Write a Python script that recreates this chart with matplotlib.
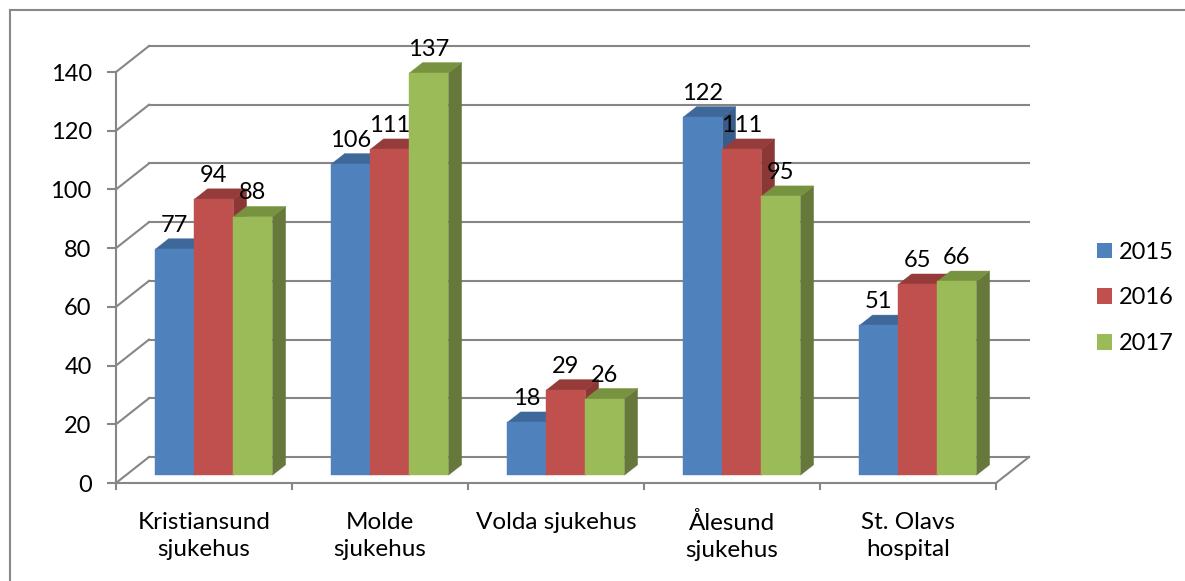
import matplotlib
matplotlib.use("Agg")
import matplotlib.pyplot as plt
from matplotlib.patches import Polygon, Patch
import numpy as np

plt.rcParams['font.family'] = ['Lato', 'DejaVu Sans']

categories = ["Kristiansund\nsjukehus", "Molde\nsjukehus", "Volda sjukehus",
              "Ålesund\nsjukehus", "St. Olavs\nhospital"]
years = ["2015", "2016", "2017"]
v2015 = [77, 106, 18, 122, 51]
v2016 = [94, 111, 29, 111, 65]
v2017 = [88, 137, 26, 95, 66]
series = [v2015, v2016, v2017]

front_cols = ['#4F81BD', '#C0504D', '#9BBB59']
top_cols = ['#3E689A', '#953B39', '#78933F']
side_cols = ['#385D8A', '#8A3735', '#66793A']
grid_col = '#868686'

W, H = 1185, 581
fig = plt.figure(figsize=(W / 100, H / 100), dpi=100)
ax = fig.add_axes([116 / W, (H - 483) / H, 880 / W, 411 / H])
ax.set_xlim(0, 5)
ax.set_ylim(0, 140)

# depth of the 3d box, in data units
DX = 33 / 176
DY = 26 / (411 / 140)
f_front, f_back = 0.3, 0.7

# back wall + side wall gridlines
for v in range(0, 141, 20):
    ax.plot([DX, 5 + DX], [v + DY, v + DY], color=grid_col, lw=1.5, clip_on=False, zorder=1)
    ax.plot([0, DX], [v, v + DY], color=grid_col, lw=1.5, clip_on=False, zorder=1)
ax.plot([5, 5 + DX], [0, DY], color=grid_col, lw=1.5, clip_on=False, zorder=1)

w = 0.2216
z = 3
for c in range(len(categories)):
    for i, vals in enumerate(series):
        v = vals[c]
        xl = c + 0.5 - 1.5 * w + i * w
        xr = xl + w
        fx, fy = f_front * DX, f_front * DY
        bx, by = f_back * DX, f_back * DY
        front = [(xl + fx, fy), (xr + fx, fy), (xr + fx, v + fy), (xl + fx, v + fy)]
        top = [(xl + fx, v + fy), (xr + fx, v + fy), (xr + bx, v + by), (xl + bx, v + by)]
        side = [(xr + fx, fy), (xr + bx, by), (xr + bx, v + by), (xr + fx, v + fy)]
        for pts, col in [(side, side_cols[i]), (top, top_cols[i]), (front, front_cols[i])]:
            ax.add_patch(Polygon(pts, closed=True, facecolor=col, edgecolor=col,
                                 lw=0.3, clip_on=False, zorder=z))
        z += 1
        ax.annotate(str(v), ((xl + xr) / 2 + fx, v + fy), xytext=(-0.5, 12.5),
                    textcoords='offset points', ha='center', va='baseline',
                    fontsize=17, color='black', zorder=100, annotation_clip=False)

for s in ['top', 'right']:
    ax.spines[s].set_visible(False)
for s in ['left', 'bottom']:
    ax.spines[s].set_color(grid_col)
    ax.spines[s].set_linewidth(1.5)
ax.set_facecolor('none')

ax.set_yticks(range(0, 141, 20))
ax.tick_params(axis='y', length=6.5, width=1.5, color=grid_col, labelsize=17, pad=11)
ax.set_xticks(range(0, 6))
ax.set_xticklabels([])
ax.tick_params(axis='x', which='major', length=5, width=1.5, color=grid_col)
ax.set_xticks(np.arange(len(categories)) + 0.5, minor=True)
ax.set_xticklabels(categories, minor=True, fontsize=17.5, linespacing=1.36)
ax.tick_params(axis='x', which='minor', length=0, pad=21)

handles = [Patch(facecolor=col, edgecolor='none') for col in front_cols]
fig.legend(handles, years, loc='center left', bbox_to_anchor=(1097 / W, 1 - 298 / H),
           frameon=False, fontsize=17, handlelength=0.64, handleheight=0.64,
           handletextpad=0.3, labelspacing=1.05, borderpad=0, borderaxespad=0)

# outer chart border
fig.add_artist(plt.Line2D([10 / W, 1], [1 - 10 / H, 1 - 10 / H], color='#888888', lw=1.5,
                          transform=fig.transFigure))
fig.add_artist(plt.Line2D([10 / W, 10 / W], [0, 1 - 10 / H], color='#888888', lw=1.5,
                          transform=fig.transFigure))

fig.savefig("out.png", dpi=100)
